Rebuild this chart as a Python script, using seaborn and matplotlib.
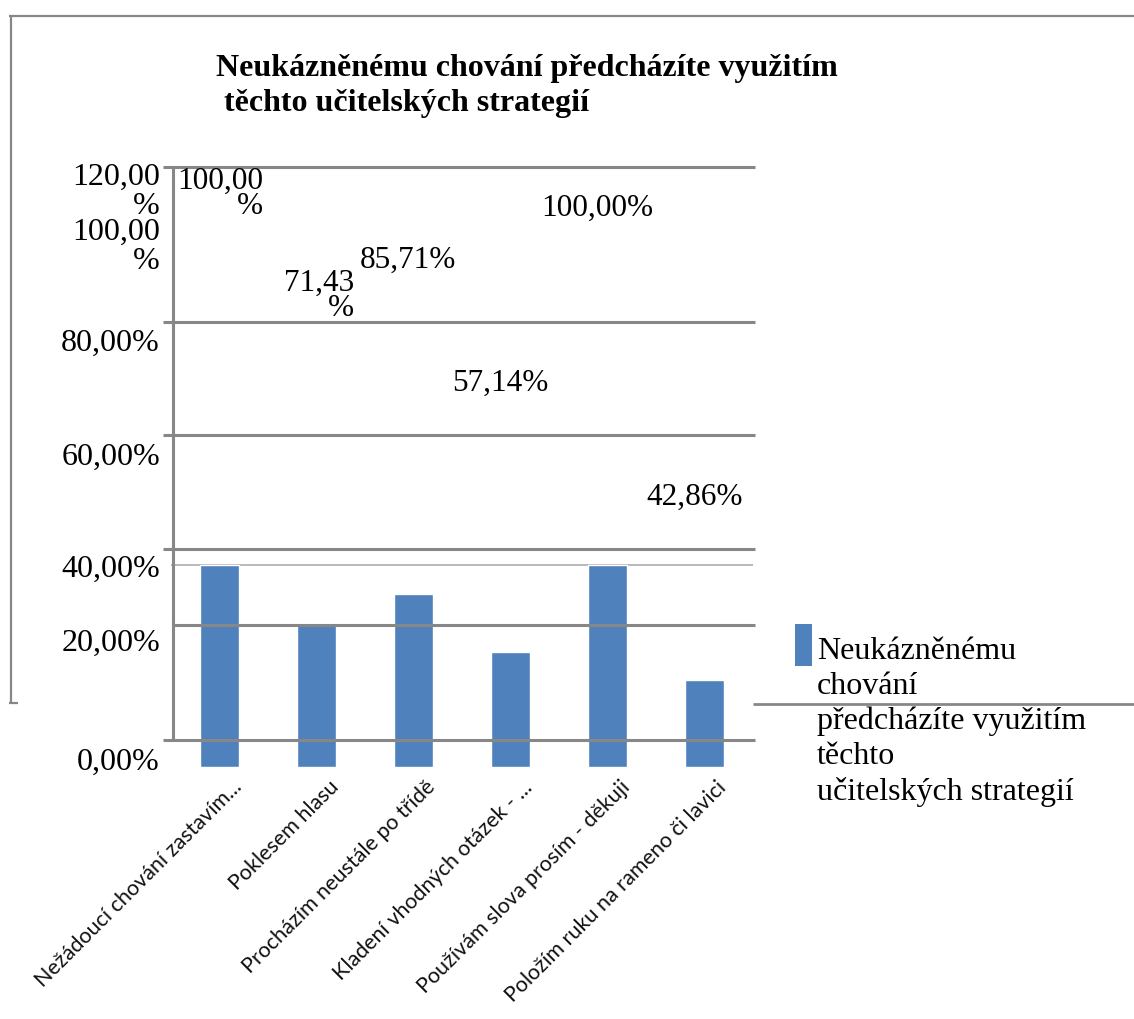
import matplotlib
matplotlib.use("Agg")
import matplotlib.pyplot as plt
import matplotlib.transforms as mtransforms
import seaborn as sns
import numpy as np
import pandas as pd

# ---------------- data ----------------
categories = [
    "Nežádoucí chování zastavím...",
    "Poklesem hlasu",
    "Procházím neustále po třídě",
    "Kladení vhodných otázek - ...",
    "Používám slova prosím - děkuji",
    "Položím ruku na rameno či lavici",
]
values = [1.0, 0.7143, 0.8571, 0.5714, 1.0, 0.4286]
y_ticks = [0, 20, 40, 60, 80, 100, 120]
title_text = "Neukázněnému chování předcházíte využitím\n těchto učitelských strategií"
legend_text = "Neukázněnému\nchování\npředcházíte využitím\ntěchto\nučitelských strategií"

# ---------------- layout (pixels) ----------------
W, H = 1134, 1019
BAR_COLOR = "#4F81BD"
GRID = "#878787"
SERIF = "Liberation Serif"

sns.set_theme(style="white")
plt.rcParams["font.family"] = ["Liberation Serif", "DejaVu Sans"]
plt.rcParams["text.color"] = "black"

fig = plt.figure(figsize=(W / 100, H / 100), dpi=100)
fig.patch.set_facecolor("white")

def fx(x):
    return x / W

def fy(y):
    return 1 - y / H

# bar layer (the bitmap chart)
bar_left, bar_right, bar_bottom = 171, 753, 767
px_per_unit = 202.0
ymax = 1.2
ax = fig.add_axes([fx(bar_left), fy(bar_bottom), (bar_right - bar_left) / W,
                   ymax * px_per_unit / H])
df = pd.DataFrame({"cat": categories, "val": values})
sns.barplot(data=df, x="cat", y="val", color=BAR_COLOR, width=0.4,
            saturation=1, ax=ax, zorder=2)
ax.set_xlim(-0.5, len(categories) - 0.5)
ax.set_ylim(0, ymax)
ax.axhline(1.0, color="#a6a6a6", lw=1.1, zorder=1)
for s in ax.spines.values():
    s.set_visible(False)
ax.set_xlabel("")
ax.set_ylabel("")
ax.set_yticks([])
ax.set_facecolor("none")
ax.tick_params(axis="x", length=0, pad=0)
ax.set_xticks(range(len(categories)))
ax.set_xticklabels(categories, rotation=45, ha="right", va="top",
                   rotation_mode="anchor", fontsize=15.5, family="Lato",
                   color="#111111")
off = mtransforms.ScaledTranslation(12 / 100, -10 / 100, fig.dpi_scale_trans)
for lbl in ax.get_xticklabels():
    lbl.set_transform(lbl.get_transform() + off)

# overlay text layer (misplaced chart layer)
ov = fig.add_axes([0, 0, 1, 1], zorder=5)
ov.set_xlim(0, W)
ov.set_ylim(H, 0)
ov.axis("off")

# frame
ov.plot([9, W], [16, 16], color=GRID, lw=1.6, solid_capstyle="butt")
ov.plot([11, 11], [16, 703], color=GRID, lw=1.6, solid_capstyle="butt")
ov.plot([9, 18], [703, 703], color=GRID, lw=1.6, solid_capstyle="butt")
ov.plot([753, W], [704, 704], color=GRID, lw=2.0, solid_capstyle="butt")

# gridlines of the text layer
grid_y_px = {0: 740, 20: 625, 40: 549, 60: 435, 80: 322, 120: 167}
grid_x0 = {0: 163, 20: 173, 40: 163, 60: 163, 80: 163, 120: 163}
for v, yy in grid_y_px.items():
    ov.plot([grid_x0[v], 755], [yy, yy], color=GRID, lw=2.2, solid_capstyle="butt")
ov.plot([173, 173], [167, 740], color=GRID, lw=2.2, solid_capstyle="butt")

# y tick labels
def pct(v):
    return f"{v:.2f}%".replace(".", ",")

tick_label_y = {0: 762, 20: 643, 40: 569, 60: 457, 80: 343, 100: 247, 120: 192}
for v in y_ticks:
    t = pct(v)
    if v >= 100:
        t = t[:-1] + "\n%"
    ov.text(160, tick_label_y[v], t, ha="right", va="center", multialignment="right",
            fontsize=23, family=SERIF, color="black", linespacing=0.98)

# data labels
lab_x = [263, 354, 408, 500, 597, 695]
lab_y = [194, 296, 260, 383, 208, 497]
for i, v in enumerate(values):
    t = pct(v * 100)
    if i in (0, 1):
        t = t[:-1] + "\n%"
        ov.text(lab_x[i], lab_y[i], t, ha="right", va="center",
                multialignment="right", fontsize=22.5, family=SERIF,
                color="black", linespacing=0.8)
    else:
        ov.text(lab_x[i], lab_y[i], t, ha="center", va="center",
                fontsize=22.5, family=SERIF, color="black")

# title
ov.text(216, 86, title_text, ha="left", va="center", fontsize=23,
        family=SERIF, fontweight="bold", color="black", linespacing=1.25)

# legend
ov.add_patch(plt.Rectangle((795, 624), 17, 42, color=BAR_COLOR, lw=0))
ov.text(817, 722, legend_text, ha="left", va="center", fontsize=23,
        family=SERIF, color="black", linespacing=1.27)

fig.savefig("out.png", dpi=100)
